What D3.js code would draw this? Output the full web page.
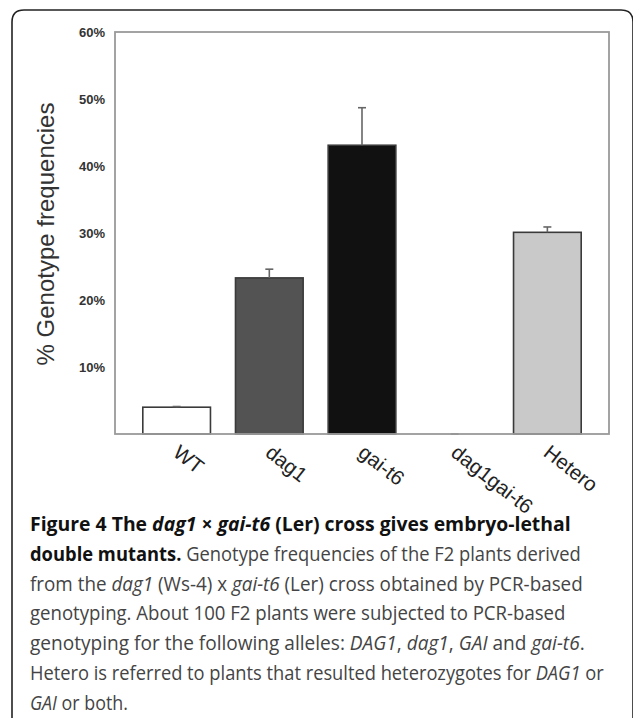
<!DOCTYPE html>
<html><head><meta charset="utf-8">
<script src="https://cdn.jsdelivr.net/npm/d3@7"></script>
<style>html,body{margin:0;padding:0;background:#fff;}svg{display:block;}</style>
</head><body>
<script>
const categories = ["WT", "dag1", "gai-t6", "dag1gai-t6", "Hetero"];
const values = [4.0, 23.3, 43.1, 0, 30.1];
const errors = [0.1, 1.3, 5.6, 0, 0.8];
const yTicks = [10, 20, 30, 40, 50, 60];
const yTitle = "% Genotype frequencies";
const barColors = ["#ffffff", "#535353", "#111111", "#ffffff", "#c9c9c9"];

const captionLines = [
  [["Figure 4 The ", "b"], ["dag1", "bi"], [" × ", "b"], ["gai-t6", "bi"], [" (Ler) cross gives embryo-lethal", "b"]],
  [["double mutants.", "b"], [" Genotype frequencies of the F2 plants derived", "n"]],
  [["from the ", "n"], ["dag1", "i"], [" (Ws-4) x ", "n"], ["gai-t6", "i"], [" (Ler) cross obtained by PCR-based", "n"]],
  [["genotyping. About 100 F2 plants were subjected to PCR-based", "n"]],
  [["genotyping for the following alleles: ", "n"], ["DAG1", "i"], [", ", "n"], ["dag1", "i"], [", ", "n"], ["GAI", "i"], [" and ", "n"], ["gai-t6", "i"], [".", "n"]],
  [["Hetero is referred to plants that resulted heterozygotes for ", "n"], ["DAG1", "i"], [" or", "n"]],
  [["GAI", "i"], [" or both.", "n"]]
];
const captionWidths = [541, 551, 553, 536, 555, 574, 98];

const W = 633, H = 718;
const svg = d3.select("body").append("svg").attr("width", W).attr("height", H);

// frame
svg.append("path")
  .attr("d", "M12,725 L12,22 Q12,10 24,10 L621,10 Q633,10 633,22 L633,725")
  .attr("fill", "none").attr("stroke", "#222").attr("stroke-width", 1.6);

const plot = {left: 115, right: 609, top: 32, bottom: 434};
const x = d3.scaleBand().domain(categories).range([plot.left, plot.right])
  .paddingInner(0.27).paddingOuter(0.30);
const y = d3.scaleLinear().domain([0, 60]).range([plot.bottom, plot.top]);

// bars
const data = categories.map((c, i) => ({c, v: values[i], e: errors[i], col: barColors[i]}));
svg.append("g").selectAll("rect").data(data.filter(d => d.v > 0)).join("rect")
  .attr("x", d => x(d.c)).attr("width", x.bandwidth())
  .attr("y", d => y(d.v)).attr("height", d => y(0) - y(d.v))
  .attr("fill", d => d.col).attr("stroke", "#3a3a3a").attr("stroke-width", 1.6);

// error bars
const eg = svg.append("g").attr("stroke", "#666").attr("stroke-width", 1.6);
data.forEach(d => {
  const cx = x(d.c) + x.bandwidth() / 2;
  eg.append("line").attr("x1", cx).attr("x2", cx).attr("y1", y(d.v)).attr("y2", y(d.v + d.e));
  eg.append("line").attr("x1", cx - 4).attr("x2", cx + 4).attr("y1", y(d.v + d.e)).attr("y2", y(d.v + d.e));
});

// plot frame
svg.append("rect").attr("x", plot.left).attr("y", plot.top)
  .attr("width", plot.right - plot.left).attr("height", plot.bottom - plot.top)
  .attr("fill", "none").attr("stroke", "#9a9a9a").attr("stroke-width", 1.8);

// y axis
const yAxis = d3.axisLeft(y).tickValues(yTicks).tickSize(0).tickPadding(10).tickFormat(d => d + "%");
const ya = svg.append("g").attr("transform", `translate(${plot.left},0)`).call(yAxis);
ya.select(".domain").remove();
ya.selectAll("text").attr("font-family", "Liberation Sans, Arial, sans-serif")
  .attr("font-weight", "bold").attr("font-size", 13).attr("fill", "#333");

// y title
svg.append("text").attr("transform", "translate(54,234) rotate(-90)")
  .attr("text-anchor", "middle").attr("font-family", "Liberation Sans, Arial, sans-serif")
  .attr("font-size", 24).attr("fill", "#333").text(yTitle);

// x labels
const xAxis = d3.axisBottom(x).tickSize(0).tickPadding(0);
const xa = svg.append("g").attr("transform", `translate(0,${plot.bottom})`).call(xAxis);
xa.select(".domain").remove();
xa.selectAll("text")
  .attr("font-family", "Liberation Sans, Arial, sans-serif").attr("font-size", 20.5).attr("fill", "#222")
  .attr("text-anchor", "start").attr("dy", null).attr("y", null)
  .attr("transform", "translate(-5,21) rotate(38)");

// caption
const cap = svg.append("g");
captionLines.forEach((line, i) => {
  const t = cap.append("text").attr("x", 0).attr("y", 0)
    .attr("font-family", "Open Sans, sans-serif").attr("font-size", 20);
  line.forEach(([s, st]) => {
    t.append("tspan").text(s)
      .attr("font-weight", st.includes("b") ? "bold" : "normal")
      .attr("font-style", st.includes("i") ? "italic" : "normal")
      .attr("fill", st.includes("b") ? "#111" : "#444");
  });
  const w = t.node().getBBox().width;
  const k = captionWidths[i] / w;
  t.attr("transform", `translate(30,${531 + i * 29.8}) scale(${k},1)`);
});
</script>
</body></html>
